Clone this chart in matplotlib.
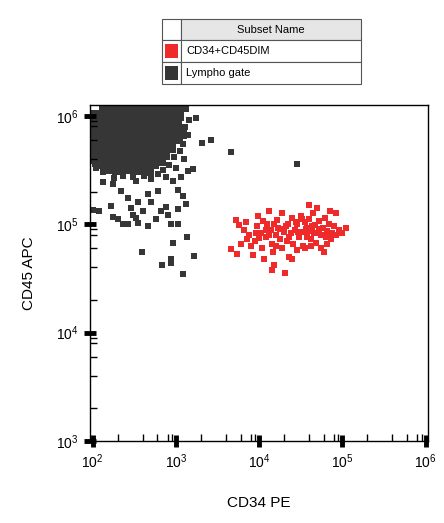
import matplotlib
matplotlib.use('Agg')
import matplotlib.pyplot as plt
import numpy as np
from matplotlib.patches import Rectangle
from matplotlib.ticker import LogLocator, LogFormatterMathtext

plt.rcParams['font.family'] = ['Liberation Sans', 'DejaVu Sans']

# log10 coordinates
lympho_core = [
    (2.15, 6.07), (2.24, 6.06), (2.35, 6.08), (2.44, 6.07), (2.55, 6.06), (2.63, 6.08), (2.74, 6.07), (2.85, 6.06), (2.95, 6.08), (3.02, 6.07),
    (2.02, 6.00), (2.11, 5.99), (2.20, 6.01), (2.30, 6.00), (2.39, 5.99), (2.48, 6.01), (2.57, 6.00), (2.66, 5.99), (2.76, 6.01), (2.85, 6.00), (2.93, 5.99), (3.03, 6.01),
    (1.99, 5.93), (2.08, 5.92), (2.17, 5.94), (2.27, 5.93), (2.36, 5.92), (2.45, 5.94), (2.55, 5.93), (2.64, 5.92), (2.73, 5.94), (2.82, 5.93), (2.91, 5.92), (3.00, 5.94),
    (1.98, 5.86), (2.07, 5.85), (2.16, 5.87), (2.26, 5.86), (2.35, 5.85), (2.44, 5.87), (2.53, 5.86), (2.63, 5.85), (2.72, 5.87), (2.81, 5.86), (2.90, 5.85), (2.99, 5.87), (3.06, 5.84),
    (1.98, 5.79), (2.08, 5.78), (2.17, 5.80), (2.26, 5.79), (2.36, 5.78), (2.45, 5.80), (2.54, 5.79), (2.64, 5.78), (2.73, 5.80), (2.82, 5.79), (2.92, 5.78), (3.01, 5.80),
    (1.99, 5.72), (2.09, 5.71), (2.18, 5.73), (2.28, 5.72), (2.37, 5.71), (2.47, 5.73), (2.56, 5.72), (2.65, 5.71), (2.75, 5.73), (2.84, 5.72), (2.93, 5.71),
    (2.00, 5.65), (2.10, 5.64), (2.20, 5.66), (2.30, 5.65), (2.39, 5.64), (2.49, 5.66), (2.58, 5.65), (2.68, 5.64), (2.77, 5.66), (2.86, 5.65),
    (2.06, 5.58), (2.15, 5.57), (2.24, 5.59), (2.34, 5.58), (2.44, 5.57), (2.54, 5.59), (2.63, 5.58), (2.73, 5.57), (2.81, 5.59),
    (2.18, 5.52), (2.30, 5.51), (2.42, 5.52), (2.55, 5.51), (2.66, 5.50),
]
lympho_outliers = [
    (3.24, 5.98), (3.42, 5.78), (3.32, 5.75), (3.66, 5.67), (4.46, 5.56), (3.21, 5.51), (3.15, 5.49),
    (3.03, 5.32), (3.06, 5.44), (2.13, 5.39), (2.24, 5.37), (2.00, 5.13), (2.08, 5.12), (2.22, 5.17),
    (2.24, 5.07), (2.36, 5.00), (2.43, 5.00), (2.55, 5.01), (2.67, 4.98), (2.94, 5.00), (3.02, 5.00),
    (3.02, 5.14), (3.12, 5.19), (3.13, 4.88), (2.97, 4.83), (2.59, 4.74), (3.22, 4.71), (2.94, 4.68),
    (2.83, 4.62), (2.94, 4.64), (3.08, 4.54), (2.54, 5.21), (2.42, 5.24), (2.66, 5.28), (2.78, 5.31),
    (2.34, 5.31), (2.82, 5.12), (2.61, 5.12), (2.49, 5.09), (2.90, 5.09), (2.70, 5.21), (2.46, 5.15),
    (2.30, 5.05), (2.52, 5.06), (2.76, 5.05), (2.88, 5.16), (3.08, 5.26), (2.96, 5.40), (3.10, 5.60),
    (3.12, 6.06), (3.16, 5.96), (3.11, 5.90), (3.14, 5.82), (3.08, 5.74), (3.05, 5.68), (2.98, 5.62),
    (2.92, 5.55), (2.85, 5.50), (2.78, 5.46), (2.62, 5.45), (2.48, 5.44), (2.36, 5.45), (2.12, 5.48),
    (2.04, 5.52), (1.99, 5.58), (2.70, 5.42), (2.88, 5.44), (3.00, 5.52), (2.52, 5.40), (2.26, 5.43),
]
cd34_cells = [
    (3.66, 4.77), (3.73, 4.73), (3.78, 4.82), (3.82, 4.95), (3.76, 4.99), (3.72, 5.04), (3.84, 5.02),
    (3.88, 4.90), (3.90, 4.80), (3.93, 4.72), (3.95, 4.85), (3.97, 4.98), (3.99, 5.08), (4.02, 4.92),
    (4.04, 4.78), (4.06, 4.68), (4.08, 4.88), (4.10, 5.00), (4.12, 5.12), (4.14, 4.95), (4.15, 4.82),
    (4.17, 4.74), (4.18, 4.62), (4.20, 4.90), (4.22, 5.04), (4.23, 4.97), (4.25, 4.86), (4.27, 4.78),
    (4.28, 5.10), (4.30, 4.93), (4.31, 4.55), (4.33, 4.85), (4.35, 5.00), (4.36, 4.70), (4.38, 4.92),
    (4.40, 5.06), (4.41, 4.82), (4.43, 4.95), (4.45, 4.76), (4.46, 5.00), (4.48, 4.88), (4.50, 5.08),
    (4.52, 4.93), (4.53, 4.80), (4.55, 5.02), (4.57, 4.90), (4.58, 4.97), (4.60, 5.05), (4.62, 4.86),
    (4.63, 4.94), (4.65, 5.10), (4.67, 4.99), (4.68, 4.83), (4.70, 4.92), (4.72, 5.03), (4.74, 4.90),
    (4.75, 4.78), (4.77, 4.97), (4.79, 5.06), (4.80, 4.88), (4.82, 4.94), (4.84, 5.00), (4.86, 4.86),
    (4.88, 4.92), (4.90, 4.98), (4.93, 4.90), (4.96, 4.95), (5.00, 4.92), (5.04, 4.97), (4.78, 4.74),
    (4.70, 5.15), (4.60, 5.18), (4.85, 5.12), (4.92, 5.10), (4.55, 4.78), (4.40, 4.68), (4.15, 4.58),
    (4.12, 4.90), (4.25, 4.96), (4.36, 4.88), (4.47, 4.93), (4.58, 4.88), (4.66, 4.92), (4.00, 4.87),
    (3.86, 4.86), (3.96, 4.92), (4.08, 4.95), (4.20, 4.80), (4.32, 4.98), (4.44, 5.02), (4.56, 4.96),
    (4.64, 4.98), (4.72, 4.96), (4.82, 4.82), (4.05, 5.03), (4.18, 5.00), (4.52, 5.05), (4.62, 4.80),
]
legend_labels = ['CD34+CD45DIM', 'Lympho gate']
legend_colors = ['#ee2a2a', '#363636']

fig = plt.figure(figsize=(4.44, 5.23), dpi=100)
ax = fig.add_axes([0.203, 0.157, 0.761, 0.642])

core = np.array(lympho_core)
out = np.array(lympho_outliers)
red = np.array(cd34_cells)
ax.scatter(10**core[:, 0], 10**core[:, 1], marker='s', s=75, c=legend_colors[1], linewidths=0)
ax.scatter(10**out[:, 0], 10**out[:, 1], marker='s', s=16, c=legend_colors[1], linewidths=0)
ax.scatter(10**red[:, 0], 10**red[:, 1], marker='s', s=16, c=legend_colors[0], linewidths=0)

ax.set_xscale('log')
ax.set_yscale('log')
ax.set_xlim(10**1.97, 10**6.03)
ax.set_ylim(1e3, 10**6.1)
for axis in (ax.xaxis, ax.yaxis):
    axis.set_major_locator(LogLocator(base=10, numticks=10))
    axis.set_minor_locator(LogLocator(base=10, subs=(2, 4, 6, 8, 9), numticks=20))
    axis.set_major_formatter(LogFormatterMathtext())
ax.tick_params(which='major', direction='inout', length=9, width=3.5, labelsize=10, pad=4)
ax.tick_params(which='minor', direction='in', length=5, width=1)
for s in ax.spines.values():
    s.set_linewidth(1)

ax.set_xlabel('CD34 PE', fontsize=11, labelpad=18)
ax.set_ylabel('CD45 APC', fontsize=11, labelpad=14)

# legend table
W, H = 444, 523
def box(x0, y0, w, h, fc):
    fig.patches.append(Rectangle((x0 / W, 1 - (y0 + h) / H), w / W, h / H,
                                 transform=fig.transFigure, fc=fc, ec='#555555', lw=0.8))
box(162, 19, 19, 21, 'white')
box(181, 19, 180, 21, '#e6e6e6')
fig.text(271 / W, 1 - 30 / H, 'Subset Name', ha='center', va='center', fontsize=8)
for i, (lab, col) in enumerate(zip(legend_labels, legend_colors)):
    y0 = 40 + i * 22
    box(162, y0, 19, 22, 'white')
    box(181, y0, 180, 22, 'white')
    fig.patches.append(Rectangle((165 / W, 1 - (y0 + 18) / H), 13 / W, 14 / H,
                                 transform=fig.transFigure, fc=col, ec='none'))
    fig.text(186 / W, 1 - (y0 + 11) / H, lab, ha='left', va='center', fontsize=8)

fig.savefig('out.png', dpi=100)
